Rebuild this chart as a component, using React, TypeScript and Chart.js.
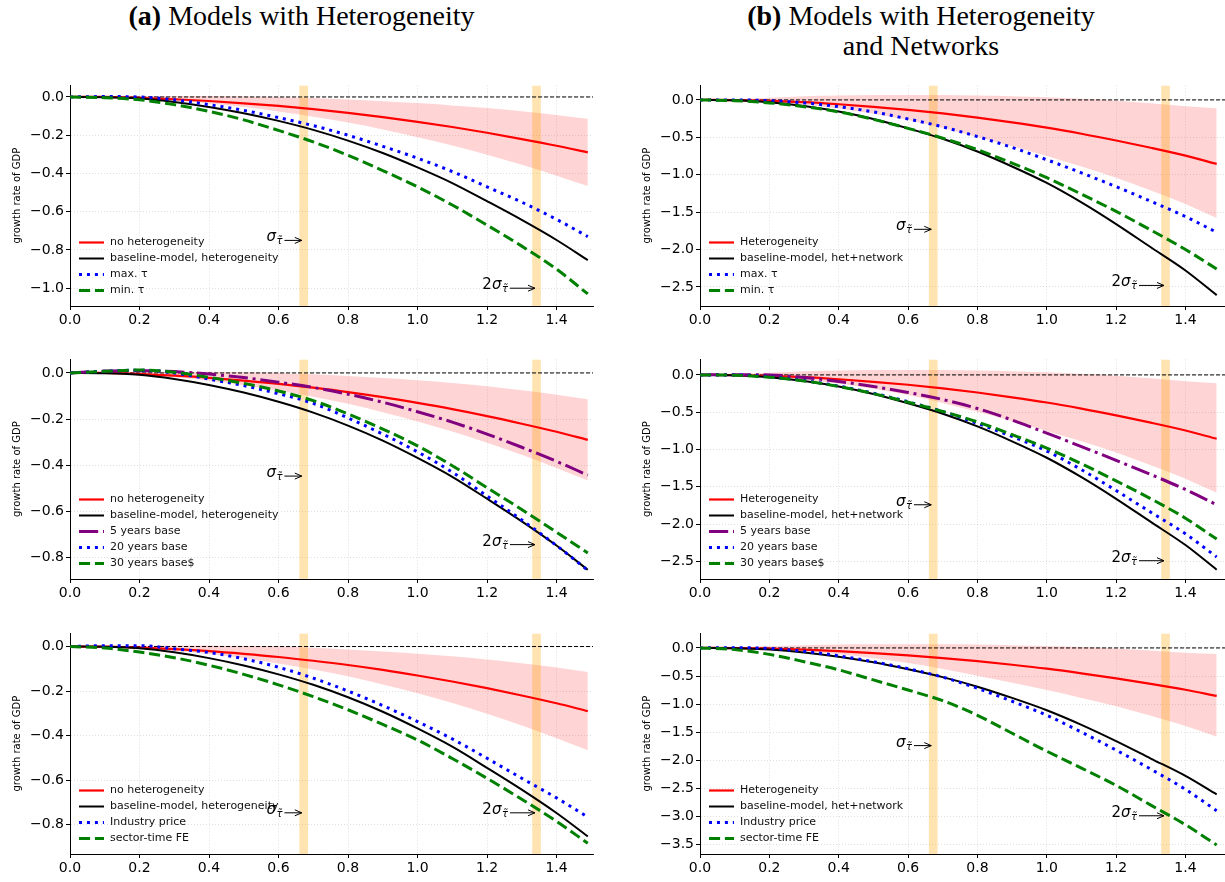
import React, { useEffect, useRef } from "react";
import { Chart, registerables } from "chart.js";

Chart.register(...registerables);

// ---------------- DATA ----------------
const XS = [0, 0.1, 0.2, 0.3, 0.4, 0.5, 0.6, 0.7, 0.8, 0.9, 1.0, 1.1, 1.2, 1.3, 1.4, 1.49];

// (a) Models with Heterogeneity — shared series
const A_NO_HET = [0, 0, -0.005, -0.012, -0.021, -0.033, -0.047, -0.064, -0.083, -0.105, -0.13, -0.157, -0.187, -0.22, -0.255, -0.29];
const A_BAND_UPPER = [0, 0.002, 0.004, 0.005, 0.005, 0.003, 0.0, -0.006, -0.013, -0.022, -0.032, -0.044, -0.058, -0.075, -0.094, -0.114];
const A_BAND_LOWER = [0, -0.002, -0.008, -0.019, -0.034, -0.053, -0.076, -0.103, -0.134, -0.17, -0.21, -0.254, -0.302, -0.355, -0.412, -0.466];
const A_BASELINE = [0, -0.001, -0.008, -0.026, -0.052, -0.085, -0.125, -0.172, -0.228, -0.293, -0.368, -0.45, -0.545, -0.643, -0.748, -0.853];

const A1_MAX_TAU = [0, 0.002, 0.0, -0.015, -0.04, -0.07, -0.108, -0.15, -0.2, -0.258, -0.32, -0.39, -0.47, -0.55, -0.64, -0.73];
const A1_MIN_TAU = [0, -0.004, -0.015, -0.04, -0.075, -0.12, -0.175, -0.235, -0.305, -0.385, -0.47, -0.565, -0.67, -0.78, -0.9, -1.03];

const A2_5Y = [0, 0.008, 0.01, 0.006, -0.005, -0.02, -0.04, -0.063, -0.092, -0.127, -0.168, -0.213, -0.265, -0.322, -0.383, -0.443];
const A2_20Y = [0, 0.007, 0.012, 0.0, -0.027, -0.055, -0.09, -0.132, -0.195, -0.265, -0.342, -0.43, -0.533, -0.637, -0.748, -0.855];
const A2_30Y = [0, 0.007, 0.013, 0.003, -0.019, -0.045, -0.078, -0.12, -0.178, -0.243, -0.316, -0.402, -0.497, -0.592, -0.69, -0.78];

const A3_INDUSTRY = [0, 0.004, 0.004, -0.01, -0.027, -0.055, -0.093, -0.142, -0.2, -0.265, -0.337, -0.415, -0.502, -0.592, -0.68, -0.766];
const A3_SECTOR_FE = [0, -0.007, -0.025, -0.05, -0.084, -0.125, -0.172, -0.225, -0.284, -0.35, -0.42, -0.503, -0.592, -0.686, -0.785, -0.884];

// (b) Models with Heterogeneity and Networks — shared series
const B_HET = [0, -0.002, -0.012, -0.03, -0.058, -0.092, -0.132, -0.18, -0.236, -0.3, -0.37, -0.452, -0.543, -0.64, -0.745, -0.855];
const B_BAND_UPPER = [0, 0.01, 0.03, 0.05, 0.06, 0.065, 0.066, 0.065, 0.06, 0.05, 0.035, 0.015, -0.01, -0.045, -0.085, -0.11];
const B_BAND_LOWER = [0, -0.007, -0.028, -0.064, -0.114, -0.185, -0.27, -0.375, -0.495, -0.62, -0.75, -0.89, -1.04, -1.21, -1.39, -1.58];
const B_BASELINE = [0, -0.005, -0.03, -0.08, -0.155, -0.255, -0.38, -0.52, -0.69, -0.89, -1.11, -1.37, -1.66, -1.97, -2.28, -2.61];

const B1_MAX_TAU = [0, 0, -0.01, -0.04, -0.09, -0.16, -0.255, -0.36, -0.49, -0.635, -0.8, -0.975, -1.16, -1.355, -1.56, -1.77];
const B1_MIN_TAU = [0, -0.01, -0.04, -0.09, -0.16, -0.26, -0.38, -0.51, -0.665, -0.845, -1.04, -1.26, -1.49, -1.74, -2.0, -2.26];

const B2_5Y = [0, 0.003, 0.0, -0.035, -0.088, -0.155, -0.235, -0.33, -0.45, -0.605, -0.78, -0.96, -1.145, -1.335, -1.535, -1.74];
const B2_20Y = [0, 0, -0.025, -0.075, -0.15, -0.245, -0.36, -0.49, -0.65, -0.825, -1.02, -1.27, -1.55, -1.84, -2.13, -2.44];
const B2_30Y = [0, -0.005, -0.03, -0.08, -0.155, -0.25, -0.365, -0.49, -0.63, -0.8, -0.98, -1.19, -1.42, -1.66, -1.92, -2.2];

const B3_INDUSTRY = [0, 0.005, -0.01, -0.06, -0.14, -0.245, -0.37, -0.52, -0.72, -0.95, -1.2, -1.5, -1.82, -2.16, -2.52, -2.9];
const B3_SECTOR_FE = [0, -0.03, -0.115, -0.245, -0.39, -0.57, -0.75, -0.94, -1.2, -1.52, -1.84, -2.14, -2.45, -2.8, -3.15, -3.51];

const LABELS_A = ["no heterogeneity", "baseline-model, heterogeneity"];
const LABELS_B = ["Heterogeneity", "baseline-model, het+network"];

// shaded sigma bands and arrow annotations (data units)
const SPANS = [[0.66, 0.685], [1.33, 1.355]];
const SIGMA_ARROW = [0.617, 0.667];
const SIGMA2_ARROW = [1.266, 1.338];

// ---------------- STYLES ----------------
const STYLES: Record<string, { color: string; width: number; dash: number[] }> = {
  red: { color: "#ff0000", width: 2.2, dash: [] },
  black: { color: "#000000", width: 2, dash: [] },
  blue: { color: "#0000ff", width: 3, dash: [3, 4.95] },
  green: { color: "#008000", width: 3, dash: [11.1, 4.8] },
  purple: { color: "#800080", width: 3, dash: [19.2, 4.8, 3, 4.8] },
};

const COLS = [
  { left: 0, width: 600, padRight: 7, xMax: 1.505 },
  { left: 630, width: 595, padRight: 0, xMax: 1.514 },
];
const ROWS = [
  { plotTop: 83, plotH: 223 },
  { plotTop: 357, plotH: 222 },
  { plotTop: 631, plotH: 223 },
];
const PAD_TOP = 8;
const X_AXIS_H = 26;
const Y_AXIS_W = 70;

type Extra = { label: string; values: number[]; style: string };
type PanelCfg = {
  group: "a" | "b";
  col: number;
  row: number;
  yMin: number;
  yMax: number;
  yStep: number;
  extra: Extra[];
  sigmaY: number;
  sigma2Y: number;
};

const PANELS: PanelCfg[] = [
  {
    group: "a", col: 0, row: 0, yMin: -1.093, yMax: 0.0605, yStep: 0.2, sigmaY: -0.75, sigma2Y: -1.0,
    extra: [
      { label: "max. τ", values: A1_MAX_TAU, style: "blue" },
      { label: "min. τ", values: A1_MIN_TAU, style: "green" },
    ],
  },
  {
    group: "b", col: 1, row: 0, yMin: -2.755, yMax: 0.194, yStep: 0.5, sigmaY: -1.73, sigma2Y: -2.48,
    extra: [
      { label: "max. τ", values: B1_MAX_TAU, style: "blue" },
      { label: "min. τ", values: B1_MIN_TAU, style: "green" },
    ],
  },
  {
    group: "a", col: 0, row: 1, yMin: -0.893, yMax: 0.0587, yStep: 0.2, sigmaY: -0.447, sigma2Y: -0.744,
    extra: [
      { label: "5 years base", values: A2_5Y, style: "purple" },
      { label: "20 years base", values: A2_20Y, style: "blue" },
      { label: "30 years base$", values: A2_30Y, style: "green" },
    ],
  },
  {
    group: "b", col: 1, row: 1, yMin: -2.735, yMax: 0.208, yStep: 0.5, sigmaY: -1.74, sigma2Y: -2.49,
    extra: [
      { label: "5 years base", values: B2_5Y, style: "purple" },
      { label: "20 years base", values: B2_20Y, style: "blue" },
      { label: "30 years base$", values: B2_30Y, style: "green" },
    ],
  },
  {
    group: "a", col: 0, row: 2, yMin: -0.932, yMax: 0.059, yStep: 0.2, sigmaY: -0.747, sigma2Y: -0.747,
    extra: [
      { label: "Industry price", values: A3_INDUSTRY, style: "blue" },
      { label: "sector-time FE", values: A3_SECTOR_FE, style: "green" },
    ],
  },
  {
    group: "b", col: 1, row: 2, yMin: -3.671, yMax: 0.259, yStep: 0.5, sigmaY: -1.74, sigma2Y: -2.99,
    extra: [
      { label: "Industry price", values: B3_INDUSTRY, style: "blue" },
      { label: "sector-time FE", values: B3_SECTOR_FE, style: "green" },
    ],
  },
];

const SANS = '"DejaVu Sans", sans-serif';

function pts(ys: number[]) {
  return XS.map((x, i) => ({ x, y: ys[i] }));
}

function fmt(v: number) {
  const r = Math.round(v * 10) / 10;
  if (Math.abs(r) < 1e-9) return "0.0";
  const s = Math.abs(r).toFixed(1);
  return r < 0 ? "\u2212" + s : s;
}

function drawSigmaLabel(ctx: CanvasRenderingContext2D, xRight: number, yc: number, withTwo: boolean) {
  const big = `15px ${SANS}`;
  const bigIt = `italic 15px ${SANS}`;
  const sub = `italic 10px ${SANS}`;
  ctx.font = big;
  const w2 = withTwo ? ctx.measureText("2").width : 0;
  ctx.font = bigIt;
  const ws = ctx.measureText("σ").width;
  ctx.font = sub;
  const wt = ctx.measureText("τ̃").width;
  let x = xRight - (w2 + ws + wt + 1.5);
  const base = yc + 3;
  ctx.fillStyle = "#000";
  ctx.textAlign = "left";
  ctx.textBaseline = "alphabetic";
  if (withTwo) {
    ctx.font = big;
    ctx.fillText("2", x, base);
    x += w2;
  }
  ctx.font = bigIt;
  ctx.fillText("σ", x, base);
  x += ws + 0.5;
  ctx.font = sub;
  ctx.fillText("τ̃", x, base + 3);
}

function drawArrow(ctx: CanvasRenderingContext2D, x0: number, x1: number, y: number) {
  ctx.save();
  ctx.strokeStyle = "#000";
  ctx.lineWidth = 1;
  ctx.setLineDash([]);
  ctx.beginPath();
  ctx.moveTo(x0, y);
  ctx.lineTo(x1, y);
  ctx.stroke();
  ctx.beginPath();
  ctx.moveTo(x1 - 7, y - 3);
  ctx.lineTo(x1, y);
  ctx.lineTo(x1 - 7, y + 3);
  ctx.stroke();
  ctx.restore();
}

function Panel({ cfg }: { cfg: PanelCfg }) {
  const ref = useRef<HTMLCanvasElement>(null);
  const col = COLS[cfg.col];
  const row = ROWS[cfg.row];
  const cw = col.width;
  const ch = PAD_TOP + row.plotH + X_AXIS_H;

  useEffect(() => {
    const canvas = ref.current;
    if (!canvas) return;
    const isA = cfg.group === "a";
    const het = isA ? A_NO_HET : B_HET;
    const bl = isA ? A_BASELINE : B_BASELINE;
    const hi = isA ? A_BAND_UPPER : B_BAND_UPPER;
    const lo = isA ? A_BAND_LOWER : B_BAND_LOWER;
    const labels = isA ? LABELS_A : LABELS_B;
    const lines = [
      { label: labels[0], values: het, style: "red" },
      { label: labels[1], values: bl, style: "black" },
      ...cfg.extra,
    ];

    const datasets: any[] = [
      {
        label: "band_hi", data: pts(hi), borderWidth: 0, borderColor: "transparent",
        pointRadius: 0, fill: false, cubicInterpolationMode: "monotone", order: 100,
      },
      {
        label: "band_lo", data: pts(lo), borderWidth: 0, borderColor: "transparent",
        backgroundColor: "rgba(255,0,0,0.17)", pointRadius: 0, fill: "-1",
        cubicInterpolationMode: "monotone", order: 99,
      },
      ...lines.map((l, i) => {
        const st = STYLES[l.style];
        return {
          label: l.label, data: pts(l.values), borderColor: st.color, borderWidth: st.width,
          borderDash: st.dash, pointRadius: 0, fill: false, cubicInterpolationMode: "monotone",
          order: 50 - i,
        };
      }),
    ];

    const decor = {
      id: "decor",
      beforeDatasetsDraw(chart: any) {
        const { ctx, chartArea: a, scales } = chart;
        const x = scales.x, y = scales.y;
        ctx.save();
        ctx.beginPath();
        ctx.rect(a.left, a.top, a.right - a.left, a.bottom - a.top);
        ctx.clip();
        ctx.fillStyle = "rgba(255,165,0,0.3)";
        for (const [s, e] of SPANS) {
          const x0 = x.getPixelForValue(s);
          const x1 = x.getPixelForValue(e);
          ctx.fillRect(x0, a.top, x1 - x0, a.bottom - a.top);
        }
        const y0 = y.getPixelForValue(0);
        ctx.strokeStyle = "#000";
        ctx.lineWidth = 1;
        ctx.setLineDash([4, 2]);
        ctx.beginPath();
        ctx.moveTo(a.left, y0);
        ctx.lineTo(a.right, y0);
        ctx.stroke();
        ctx.restore();
      },
      afterDatasetsDraw(chart: any) {
        const { ctx, chartArea: a, scales } = chart;
        const x = scales.x, y = scales.y;
        ctx.save();
        // legend
        const n = lines.length;
        lines.forEach((l, i) => {
          const st = STYLES[l.style];
          const yy = a.bottom - 15.5 - (n - 1 - i) * 16;
          ctx.strokeStyle = st.color;
          ctx.lineWidth = st.width;
          ctx.setLineDash(st.dash);
          ctx.lineCap = "butt";
          ctx.beginPath();
          ctx.moveTo(a.left + 9, yy);
          ctx.lineTo(a.left + 34, yy);
          ctx.stroke();
          ctx.setLineDash([]);
          ctx.fillStyle = "#111";
          ctx.font = `11px ${SANS}`;
          ctx.textAlign = "left";
          ctx.textBaseline = "middle";
          ctx.fillText(l.label, a.left + 40, yy);
        });
        // annotations
        const ys = y.getPixelForValue(cfg.sigmaY);
        const s0 = x.getPixelForValue(SIGMA_ARROW[0]);
        const s1 = x.getPixelForValue(SIGMA_ARROW[1]);
        drawSigmaLabel(ctx, s0 - 1, ys - 2, false);
        drawArrow(ctx, s0, s1, ys);
        const ys2 = y.getPixelForValue(cfg.sigma2Y);
        const t0 = x.getPixelForValue(SIGMA2_ARROW[0]);
        const t1 = x.getPixelForValue(SIGMA2_ARROW[1]);
        drawSigmaLabel(ctx, t0 - 1, ys2 - 2, true);
        drawArrow(ctx, t0, t1, ys2);
        ctx.restore();
      },
    };

    const gridCommon = {
      color: "rgba(0,0,0,0.16)",
      lineWidth: 0.8,
      tickColor: "#000",
      tickLength: 4,
      tickWidth: 1,
      drawTicks: true,
    };

    const chart = new Chart(canvas, {
      type: "line",
      data: { datasets },
      options: {
        animation: false,
        responsive: false,
        maintainAspectRatio: false,
        devicePixelRatio: 1,
        events: [],
        layout: { padding: { top: PAD_TOP, right: col.padRight, left: 0, bottom: 0 } },
        plugins: {
          legend: { display: false },
          tooltip: { enabled: false },
          filler: { drawTime: "beforeDatasetsDraw" },
        },
        elements: { point: { radius: 0 } },
        scales: {
          x: {
            type: "linear",
            min: 0,
            max: col.xMax,
            ticks: {
              stepSize: 0.2,
              includeBounds: false,
              callback: (v: any) => fmt(Number(v)),
              color: "#000",
              font: { family: SANS, size: 14 },
              padding: 2,
              maxRotation: 0,
            },
            grid: gridCommon,
            border: { display: true, color: "#000", width: 1, dash: [1, 2] },
            afterFit: (s: any) => {
              s.height = X_AXIS_H;
            },
          },
          y: {
            type: "linear",
            min: cfg.yMin,
            max: cfg.yMax,
            ticks: {
              stepSize: cfg.yStep,
              includeBounds: false,
              callback: (v: any) => fmt(Number(v)),
              color: "#000",
              font: { family: SANS, size: 14 },
              padding: 2,
            },
            grid: gridCommon,
            border: { display: true, color: "#000", width: 1, dash: [1, 2] },
            title: {
              display: true,
              text: "growth rate of GDP",
              color: "#000",
              font: { family: SANS, size: 10 },
              padding: { top: 11, bottom: 0 },
            },
            afterFit: (s: any) => {
              s.width = Y_AXIS_W;
            },
          },
        },
      } as any,
      plugins: [decor],
    });
    return () => chart.destroy();
  }, []);

  return (
    <canvas
      ref={ref}
      width={cw}
      height={ch}
      style={{
        position: "absolute",
        left: col.left,
        top: row.plotTop - PAD_TOP,
        width: cw,
        height: ch,
      }}
    />
  );
}

const TITLE_STYLE: React.CSSProperties = {
  position: "absolute",
  top: 1,
  textAlign: "center",
  fontFamily: '"Liberation Serif", "Times New Roman", serif',
  fontSize: 28,
  lineHeight: "30px",
  color: "#000",
};

export default function App() {
  return (
    <div
      style={{
        position: "absolute",
        left: 0,
        top: 0,
        width: 1225,
        height: 882,
        background: "#fff",
        overflow: "hidden",
      }}
    >
      <div style={{ ...TITLE_STYLE, left: 0, width: 603 }}>
        <b>(a)</b> Models with Heterogeneity
      </div>
      <div style={{ ...TITLE_STYLE, left: 621, width: 600 }}>
        <b>(b)</b> Models with Heterogeneity
        <br />
        and Networks
      </div>
      {PANELS.map((p, i) => (
        <Panel key={i} cfg={p} />
      ))}
    </div>
  );
}
